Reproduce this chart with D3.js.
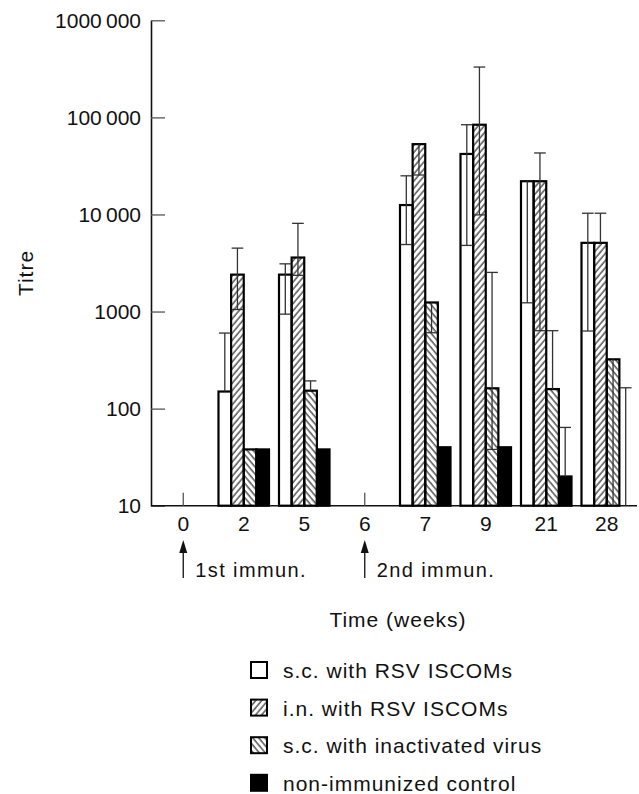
<!DOCTYPE html>
<html lang="en">
<head>
  <meta charset="UTF-8">
  <title>Titre</title>
  <script src="https://cdn.jsdelivr.net/npm/d3@7"></script>
  <style>
    body { margin: 0; background: #fff; }
    text { font-family: "Liberation Sans", Arial, sans-serif; fill: #111; }
  </style>
</head>
<body>
<svg></svg>
<script>
  const width = 639, height = 794

  // categories and series
  const weeks = ['0', '2', '5', '6', '7', '9', '21', '28']
  const seriesNames = ['s.c. with RSV ISCOMs', 'i.n. with RSV ISCOMs',
    's.c. with inactivated virus', 'non-immunized control']
  const yTicks = [10, 100, 1000, 10000, 100000, 1000000]
  const yTickLabels = ['10', '100', '1000', '10\u2009000', '100\u2009000', '1000\u2009000']

  // mean titre per week (null = no bar)
  const scIscomMean = [null, 150, 2400, null, 12500, 42000, 22000, 5100]
  const inIscomMean = [null, 2400, 3600, null, 53000, 84000, 22000, 5100]
  const scVirusMean = [null, 38, 153, null, 1240, 162, 159, 322]
  const controlMean = [null, 38, 38, null, 40, 40, 20, null]

  // error bar ends (null = not drawn)
  const scIscomHi = [null, 600, 3100, null, 25000, 84000, null, 10300]
  const scIscomLo = [null, null, 940, null, 4900, 4800, 1230, 630]
  const inIscomHi = [null, 4500, 8100, null, null, 330000, 43000, 10300]
  const inIscomLo = [null, 1050, 2360, null, 25500, 9900, 635, null]
  const scVirusHi = [null, null, 193, null, null, 2530, 635, null]
  const scVirusLo = [null, null, null, null, 605, 38, null, 10]
  const controlHi = [null, null, null, null, null, null, 64, 164]
  const controlLo = [null, null, null, null, null, null, null, null]

  const means = [scIscomMean, inIscomMean, scVirusMean, controlMean]
  const his = [scIscomHi, inIscomHi, scVirusHi, controlHi]
  const los = [scIscomLo, inIscomLo, scVirusLo, controlLo]
  const fills = ['#fff', 'url(#hatchF)', 'url(#hatchB)', '#000']

  const data = []
  weeks.forEach((w, i) => {
    seriesNames.forEach((s, j) => {
      data.push({week: w, s: j, mean: means[j][i], hi: his[j][i], lo: los[j][i]})
    })
  })

  const svg = d3.select('svg')
      .attr('width', width)
      .attr('height', height)
      .attr('viewBox', [0, 0, width, height])

  const defs = svg.append('defs')
  //斜线填充
  const hatch = (id, angle) => {
    defs.append('pattern')
        .attr('id', id)
        .attr('patternUnits', 'userSpaceOnUse')
        .attr('width', 4.6)
        .attr('height', 10)
        .attr('patternTransform', `rotate(${angle})`)
      .append('line')
        .attr('x1', 1).attr('x2', 1)
        .attr('y1', 0).attr('y2', 10)
        .attr('stroke', '#000')
        .attr('stroke-width', 1)
  }
  hatch('hatchF', 40)
  hatch('hatchB', -40)

  const x = d3.scaleBand()
      .domain(weeks)
      .range([153, 637])
      .paddingInner(0.165)
      .paddingOuter(0.0825)

  const xs = d3.scaleBand()
      .domain(d3.range(seriesNames.length))
      .range([0, x.bandwidth()])

  const y = d3.scaleLog()
      .domain([10, 1000000])
      .range([505.7, 20.3])

  //Y轴
  const yAxis = svg.append('g')
      .attr('transform', 'translate(151,0)')
      .call(d3.axisLeft(y)
          .tickValues(yTicks)
          .tickFormat((d, i) => yTickLabels[i])
          .tickSize(-14)
          .tickSizeOuter(0)
          .tickPadding(10))
  yAxis.select('.domain').attr('stroke', '#111').attr('stroke-width', 1.6)
  yAxis.selectAll('.tick line').attr('stroke', '#555').attr('stroke-width', 1.3)
  yAxis.selectAll('text')
      .style('font-family', '"Liberation Sans", Arial, sans-serif')
      .style('font-size', '21px')
      .attr('fill', '#111')

  //X轴
  const xAxis = svg.append('g')
      .attr('transform', `translate(0,${y(10)})`)
      .call(d3.axisBottom(x)
          .tickSize(-13)
          .tickSizeOuter(0)
          .tickPadding(10))
  xAxis.select('.domain')
      .attr('d', 'M151,0H637')
      .attr('stroke', '#111').attr('stroke-width', 1.6)
  xAxis.selectAll('.tick line').attr('stroke', '#555').attr('stroke-width', 1.3)
  xAxis.selectAll('text')
      .style('font-family', '"Liberation Sans", Arial, sans-serif')
      .style('font-size', '21px')
      .attr('fill', '#111')

  // bars
  svg.append('g')
    .selectAll('rect')
    .data(data.filter(d => d.mean != null))
    .join('rect')
      .attr('x', d => x(d.week) + xs(d.s))
      .attr('y', d => y(d.mean))
      .attr('width', xs.bandwidth())
      .attr('height', d => y(10) - y(d.mean))
      .attr('fill', d => fills[d.s])
      .attr('stroke', '#000')
      .attr('stroke-width', 2.2)

  // error bars
  const eb = data.filter(d => d.hi != null || d.lo != null)
  const cap = xs.bandwidth() - 1
  const g = svg.append('g')
      .attr('stroke', '#333')
      .attr('stroke-width', 1.3)
      .attr('fill', 'none')
  eb.forEach(d => {
    const cx = x(d.week) + xs(d.s) + xs.bandwidth() / 2
    const base = d.mean != null ? d.mean : 10
    const top = d.hi != null ? d.hi : base
    const bot = d.lo != null ? d.lo : base
    g.append('line')
        .attr('x1', cx).attr('x2', cx)
        .attr('y1', y(top)).attr('y2', y(bot))
    if (d.hi != null) {
      g.append('line')
          .attr('x1', cx - cap / 2).attr('x2', cx + cap / 2)
          .attr('y1', y(d.hi)).attr('y2', y(d.hi))
    }
    if (d.lo != null && d.lo > 10) {
      g.append('line')
          .attr('x1', cx - cap / 2).attr('x2', cx + cap / 2)
          .attr('y1', y(d.lo)).attr('y2', y(d.lo))
    }
  })

  // immunization arrows
  const immun = [{week: '0', label: '1st immun.'}, {week: '6', label: '2nd immun.'}]
  immun.forEach(m => {
    const ax = x(m.week) + x.bandwidth() / 2
    svg.append('line')
        .attr('x1', ax).attr('x2', ax)
        .attr('y1', 578).attr('y2', 550)
        .attr('stroke', '#111').attr('stroke-width', 1.3)
    svg.append('path')
        .attr('d', `M${ax},540L${ax - 4},553L${ax + 4},553Z`)
        .attr('fill', '#111')
    svg.append('text')
        .attr('x', ax + 12)
        .attr('y', 577)
        .style('font-size', '20px')
        .style('letter-spacing', '1.4px')
        .text(m.label)
  })

  // axis titles
  svg.append('text')
      .attr('x', 398)
      .attr('y', 627)
      .attr('text-anchor', 'middle')
      .style('font-size', '21px')
      .style('letter-spacing', '1px')
      .text('Time (weeks)')

  svg.append('text')
      .attr('transform', 'translate(33,273) rotate(-90)')
      .attr('text-anchor', 'middle')
      .style('font-size', '21px')
      .style('letter-spacing', '1px')
      .text('Titre')

  // legend
  const legend = svg.append('g')
    .selectAll('g')
    .data(seriesNames)
    .join('g')
      .attr('transform', (d, i) => `translate(250,${661 + i * 37.6})`)
  legend.append('rect')
      .attr('x', 1).attr('y', 1)
      .attr('width', 16).attr('height', 16)
      .attr('fill', (d, i) => fills[i])
      .attr('stroke', '#000')
      .attr('stroke-width', 2)
  legend.append('text')
      .attr('x', 33)
      .attr('y', 17)
      .style('font-size', '21px')
      .style('letter-spacing', '1px')
      .text(d => d)
</script>
</body>
</html>
